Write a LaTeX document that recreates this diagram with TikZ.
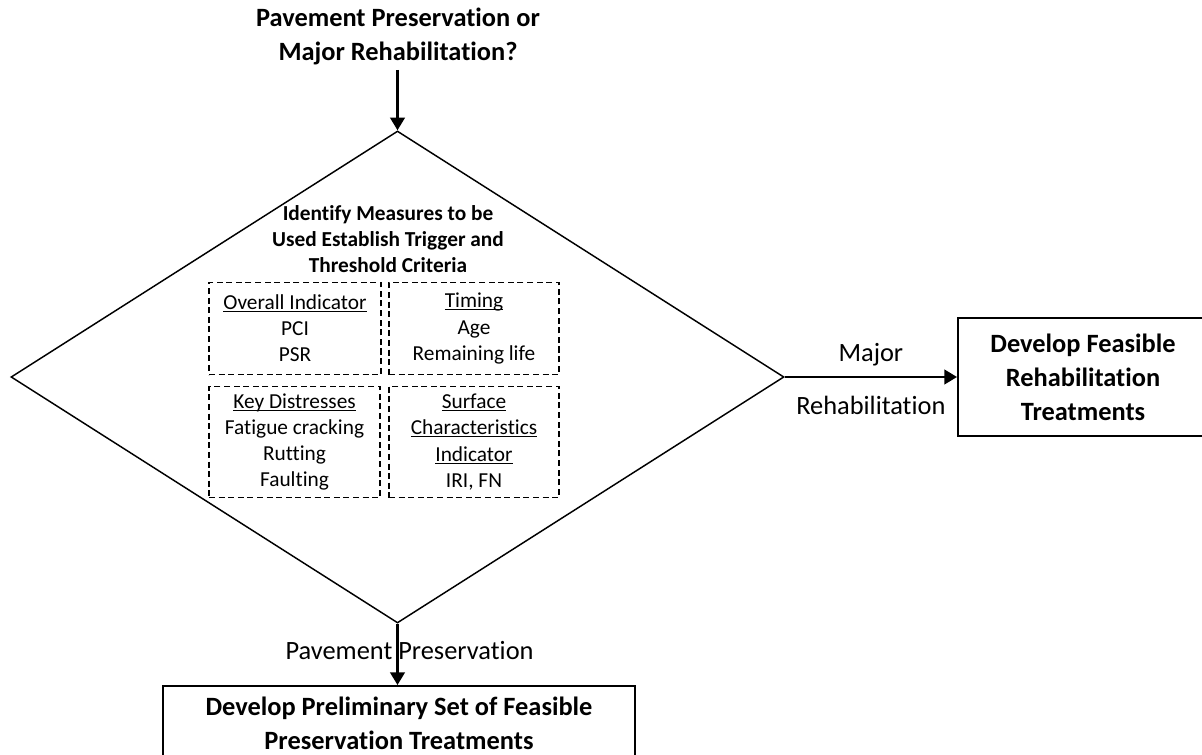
\documentclass[tikz,border=0pt]{standalone}
\usepackage{fontspec}
\setmainfont{Carlito}[Ligatures=NoCommon]
\usetikzlibrary{shapes.geometric,arrows.meta}

% underlined heading whose descenders do not push the rule down
\newcommand{\hd}[1]{\underline{\raisebox{0pt}[\height][0pt]{#1}}}

\tikzset{
  bigtext/.style={font=\fontsize{19.8}{25.5}\selectfont, align=center, inner sep=0pt},
  bigbold/.style={bigtext, font=\fontsize{19.8}{25.5}\selectfont\bfseries},
  smalltext/.style={font=\fontsize{16}{19.6}\selectfont, align=center, inner sep=0pt},
  smallbold/.style={smalltext, font=\fontsize{16}{19.6}\selectfont\bfseries},
  decision/.style={diamond, draw, line width=1.1pt, inner sep=0pt,
    minimum width=773*0.75pt, minimum height=492*0.75pt},
  procbox/.style={draw, line width=1.5pt, rectangle, inner sep=0pt,
    align=center, font=\fontsize{19.8}{25.5}\selectfont\bfseries},
  measurebox/.style={draw, dashed, dash pattern=on 4.5pt off 2.7pt, line width=1.2pt,
    rectangle, inner sep=0pt, align=center, font=\fontsize{16}{19.6}\selectfont},
  flow/.style={line width=1.7pt, -{Triangle[length=9.5pt,width=11pt]}}
}

\begin{document}
\begin{tikzpicture}[x=0.75pt,y=-0.75pt]
  \useasboundingbox (0,0) rectangle (1202,755);
  \clip (0,0) rectangle (1202,755);

  % question at the top
  \node[bigbold] (question) at (398,36)
    {Pavement Preservation or\\Major Rehabilitation?};

  % decision diamond
  \node[decision] (dec) at (397.5,377) {};

  % criteria heading inside the diamond
  \node[smallbold] (crit) at (388,239)
    {Identify Measures to be\\Used Establish Trigger and\\Threshold Criteria};

  % the four groups of measures
  \node[measurebox, minimum width=172*0.75pt, minimum height=92*0.75pt] (overall) at (295,328.5)
    {\hd{Overall Indicator}\\PCI\\PSR};
  \node[measurebox, minimum width=170*0.75pt, minimum height=92*0.75pt] (timing) at (474,328.5)
    {\hd{Timing}\\Age\\Remaining life};
  \node[measurebox, minimum width=171*0.75pt, minimum height=111*0.75pt] (distress) at (294.5,442)
    {\hd{Key Distresses}\\Fatigue cracking\\Rutting\\Faulting};
  \node[measurebox, minimum width=170*0.75pt, minimum height=111*0.75pt] (surface) at (474,442)
    {\hd{Surface}\\\hd{Characteristics}\\\hd{Indicator}\\IRI, FN};

  % outcome boxes
  \node[procbox, minimum width=250*0.75pt, minimum height=118*0.75pt] (rehab) at (1083,377)
    {Develop Feasible\\Rehabilitation\\Treatments};
  \node[procbox, minimum width=472*0.75pt, minimum height=74*0.75pt, anchor=north] (pres) at (399,685)
    {Develop Preliminary Set of Feasible\\Preservation Treatments};

  % connectors
  \coordinate (qfoot) at (397.5,70);
  \draw[flow] (qfoot) -- (dec.north);
  \draw[flow] (dec.east) -- (rehab.west)
    node[bigtext, midway, yshift=17pt] {Major}
    node[bigtext, midway, yshift=-21pt] {Rehabilitation};
  \draw[flow] (dec.south) -- (dec.south |- pres.north)
    node[bigtext, midway, xshift=9pt, yshift=3pt] {Pavement Preservation};
\end{tikzpicture}
\end{document}
